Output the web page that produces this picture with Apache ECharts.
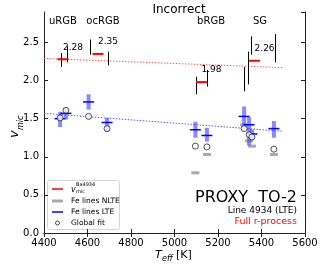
<!DOCTYPE html>
<html><head><meta charset="utf-8">
<script src="https://cdn.jsdelivr.net/npm/echarts@6/dist/echarts.min.js"></script>
<style>html,body{margin:0;padding:0;background:#fff}#c{width:329px;height:274px}</style>
</head><body><div id="c"></div>
<script>
// ---- data ----
var starTeff   = [4474, 4501, 4605, 4690, 5096, 5149, 5320, 5343, 5356, 5457];
var lteV       = [1.50, 1.57, 1.72, 1.45, 1.355, 1.28, 1.53, 1.42, 1.30, 1.37];
var lteLo      = [1.39, 1.49, 1.62, 1.33, 1.25, 1.20, 1.38, 1.15, 1.24, 1.25];
var lteHi      = [1.59, 1.64, 1.82, 1.51, 1.46, 1.38, 1.66, 1.52, 1.36, 1.47];
var nlteV      = [null, null, null, null, 0.79, 1.03, 1.42, 1.21, 1.14, 1.03];
var globalFit  = [1.51, 1.61, 1.53, 1.37, 1.14, 1.13, 1.37, 1.29, 1.26, 1.10];
var baErrTeff  = [4478, 4506, 4611, 4694, 5099, 5149, 5320, 5338, 5352, 5462];
var baErrLo    = [2.18, 2.24, 2.34, 2.20, 1.82, 1.92, 1.86, 1.95, 2.34, 2.24];
var baErrHi    = [2.36, 2.45, 2.54, 2.38, 2.05, 2.14, 2.18, 2.38, 2.58, 2.61];
var groupNames = ['uRGB', 'ocRGB', 'bRGB', 'SG'];
var groupTeff  = [4487, 4671, 5168, 5393];
var groupLabelV = [2.78, 2.78, 2.78, 2.78];
var baGroupTeff = [4487, 4648, 5124, 5368];
var baGroupV    = [2.28, 2.35, 1.98, 2.26];
var fitTeff    = [4400, 5500];
var fitBa      = [2.29, 2.17];
var fitFe      = [1.57, 1.335];
var xTicks     = [4400, 4600, 4800, 5000, 5200, 5400, 5600];
var yTicks     = [0.0, 0.5, 1.0, 1.5, 2.0, 2.5];

var FONT = 'DejaVu Sans';
var chart = echarts.init(document.getElementById('c'), null, {renderer: 'canvas'});

function zip() {
  var arrs = Array.prototype.slice.call(arguments);
  return arrs[0].map(function (_, i) { return arrs.map(function (a) { return a[i]; }); });
}

var axisCommon = {
  axisLine: {lineStyle: {color: '#222', width: 1}},
  axisTick: {inside: true, length: 4, lineStyle: {color: '#222'}},
  splitLine: {show: false}
};

var option = {
  animation: false,
  grid: {left: 44, right: 24, top: 12, bottom: 41},
  title: {text: 'Incorrect', left: 174, top: -1, textAlign: 'center',
    textStyle: {fontFamily: FONT, fontSize: 12, fontWeight: 'normal', color: '#000'}},
  xAxis: [
    Object.assign({type: 'value', min: xTicks[0], max: xTicks[xTicks.length-1], interval: 200,
      position: 'bottom',
      axisLabel: {fontFamily: FONT, fontSize: 10, color: '#000', margin: 5,
        formatter: function (v) { return String(v); }}}, axisCommon),
    Object.assign({type: 'value', min: xTicks[0], max: xTicks[xTicks.length-1], interval: 200,
      position: 'top', axisLabel: {show: false}}, axisCommon)
  ],
  yAxis: [
    Object.assign({type: 'value', min: yTicks[0], max: 2.9, interval: 0.5, position: 'left',
      axisLabel: {fontFamily: FONT, fontSize: 10, color: '#000', margin: 5, showMaxLabel: false,
        formatter: function (v) { return yTicks.indexOf(v) >= 0 ? v.toFixed(1) : ''; }}}, axisCommon),
    Object.assign({type: 'value', min: yTicks[0], max: 2.9, interval: 0.5, position: 'right',
      axisLabel: {show: false}}, axisCommon)
  ],
  series: [
    // fit lines
    {type: 'line', data: zip(fitTeff, fitBa), symbol: 'none', z: 1,
      lineStyle: {color: '#ff5a5a', width: 1, type: [1.5, 1.5]}},
    {type: 'line', data: zip(fitTeff, fitFe), symbol: 'none', z: 1,
      lineStyle: {color: '#5a5aff', width: 1, type: [1.5, 1.5]}},
    // LTE error bars + markers
    {type: 'custom', z: 3, data: zip(starTeff, lteV, lteLo, lteHi),
      renderItem: function (params, api) {
        var c = api.coord([api.value(0), api.value(1)]);
        var lo = api.coord([api.value(0), api.value(2)]);
        var hi = api.coord([api.value(0), api.value(3)]);
        return {type: 'group', children: [
          {type: 'rect', shape: {x: c[0]-2, y: hi[1], width: 4, height: lo[1]-hi[1]},
            style: {fill: 'rgba(60,60,255,0.6)'}},
          {type: 'line', shape: {x1: c[0]-5.5, y1: c[1], x2: c[0]+5.5, y2: c[1]},
            style: {stroke: '#0000ff', lineWidth: 1.5}}
        ]};
      }},
    // NLTE grey bars
    {type: 'custom', z: 2, data: zip(starTeff, nlteV).filter(function (d) { return d[1] != null; }),
      renderItem: function (params, api) {
        var c = api.coord([api.value(0), api.value(1)]);
        return {type: 'line', shape: {x1: c[0]-4, y1: c[1], x2: c[0]+4, y2: c[1]},
          style: {stroke: '#aaaaaa', lineWidth: 3}};
      }},
    // global fit circles
    {type: 'scatter', z: 4, data: zip(starTeff, globalFit), symbol: 'circle', symbolSize: 6,
      itemStyle: {color: '#fff', borderColor: '#222', borderWidth: 1}},
    // Ba black error bars
    {type: 'custom', z: 3, data: zip(baErrTeff, baErrLo, baErrHi),
      renderItem: function (params, api) {
        var lo = api.coord([api.value(0), api.value(1)]);
        var hi = api.coord([api.value(0), api.value(2)]);
        var x = Math.round(lo[0]) + 0.5;
        return {type: 'line', shape: {x1: x, y1: lo[1], x2: x, y2: hi[1]},
          style: {stroke: '#000', lineWidth: 1}};
      }},
    // Ba group red bars with labels
    {type: 'custom', z: 5, data: zip(baGroupTeff, baGroupV),
      renderItem: function (params, api) {
        var c = api.coord([api.value(0), api.value(1)]);
        return {type: 'group', children: [
          {type: 'line', shape: {x1: c[0]-5.5, y1: c[1], x2: c[0]+5.5, y2: c[1]},
            style: {stroke: '#ff0000', lineWidth: 2}},
          {type: 'text', x: c[0], y: c[1]-12, style: {text: api.value(1).toFixed(2),
            font: '9px "DejaVu Sans"', fill: '#000', align: 'left', verticalAlign: 'middle'}}
        ]};
      }},
    // group names
    {type: 'custom', z: 5, data: zip(groupTeff, groupLabelV, groupNames),
      renderItem: function (params, api) {
        var c = api.coord([api.value(0), api.value(1)]);
        return {type: 'text', x: c[0], y: c[1], style: {text: groupNames[params.dataIndex],
          font: '10px "DejaVu Sans"', fill: '#000', align: 'center', verticalAlign: 'middle'}};
      }}
  ],
  graphic: [
    // axis titles
    {type: 'text', x: 8, y: 138, rotation: Math.PI/2, style: {text: 'v', font: 'italic 13px "DejaVu Sans"', fill: '#000', verticalAlign: 'top'}},
    {type: 'text', x: 17, y: 130, rotation: Math.PI/2, style: {text: 'mic', font: 'italic 8px "DejaVu Sans"', fill: '#000', verticalAlign: 'top'}},
    {type: 'text', x: 155, y: 250, style: {text: 'T', font: 'italic 11px "DejaVu Sans"', fill: '#000'}},
    {type: 'text', x: 162, y: 255, style: {text: 'eff', font: 'italic 8px "DejaVu Sans"', fill: '#000'}},
    {type: 'text', x: 176, y: 250, style: {text: '[K]', font: '11px "DejaVu Sans"', fill: '#000'}},
    // legend
    {type: 'rect', shape: {x: 47.5, y: 180.5, width: 72, height: 49, r: 2},
      style: {fill: 'rgba(255,255,255,0.8)', stroke: '#d5d5d5', lineWidth: 1}},
    {type: 'line', shape: {x1: 52, y1: 189, x2: 63, y2: 189}, style: {stroke: '#ff0000', lineWidth: 1.5}},
    {type: 'text', x: 71, y: 190, style: {text: 'v', font: 'italic 8px "DejaVu Sans"', fill: '#000', verticalAlign: 'middle'}},
    {type: 'text', x: 76, y: 185, style: {text: 'Ba4934', font: '5px "DejaVu Sans"', fill: '#000', verticalAlign: 'middle'}},
    {type: 'text', x: 76, y: 191.5, style: {text: 'mic', font: '5px "DejaVu Sans"', fill: '#000', verticalAlign: 'middle'}},
    {type: 'line', shape: {x1: 52, y1: 201, x2: 63, y2: 201}, style: {stroke: '#aaaaaa', lineWidth: 3}},
    {type: 'text', x: 71, y: 201, style: {text: 'Fe lines NLTE', font: '7.5px "DejaVu Sans"', fill: '#000', verticalAlign: 'middle'}},
    {type: 'line', shape: {x1: 52, y1: 212, x2: 63, y2: 212}, style: {stroke: '#0000ff', lineWidth: 1.5}},
    {type: 'text', x: 71, y: 212, style: {text: 'Fe lines LTE', font: '7.5px "DejaVu Sans"', fill: '#000', verticalAlign: 'middle'}},
    {type: 'circle', shape: {cx: 57.5, cy: 223, r: 2}, style: {fill: '#fff', stroke: '#222', lineWidth: 0.8}},
    {type: 'text', x: 71, y: 223, style: {text: 'Global fit', font: '7.5px "DejaVu Sans"', fill: '#000', verticalAlign: 'middle'}},
    // annotation texts
    {type: 'text', x: 297, y: 198, style: {text: 'PROXY  TO-2', font: '16px "DejaVu Sans"', fill: '#000', align: 'right', verticalAlign: 'middle'}},
    {type: 'text', x: 297, y: 211, style: {text: 'Line 4934 (LTE)', font: '9px "DejaVu Sans"', fill: '#000', align: 'right', verticalAlign: 'middle'}},
    {type: 'text', x: 297, y: 222, style: {text: 'Full r-process', font: '9.5px "DejaVu Sans"', fill: '#ff0000', align: 'right', verticalAlign: 'middle'}}
  ]
};
chart.setOption(option);
</script>
</body></html>
